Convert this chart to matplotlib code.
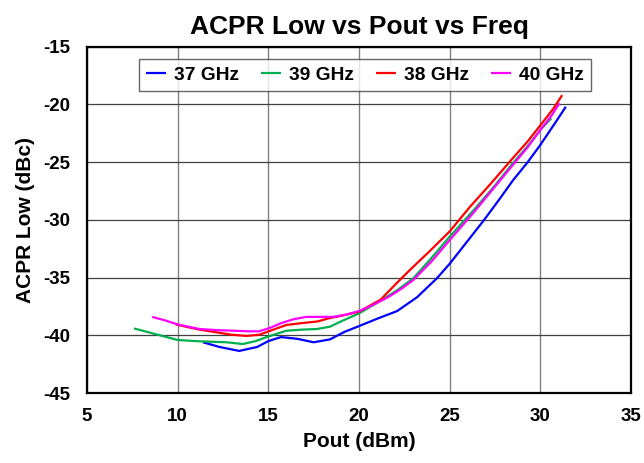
import matplotlib
matplotlib.use("Agg")
import matplotlib.pyplot as plt

plt.rcParams['font.family'] = ['Liberation Sans', 'DejaVu Sans']
plt.rcParams['font.weight'] = 'bold'
plt.rcParams['axes.unicode_minus'] = False

# Pout (dBm) and ACPR Low (dBc) per frequency
pout_37 = [11.4, 12.3, 13.4, 14.4, 15.0, 15.7, 16.6, 17.5, 18.4, 19.2, 20.0, 21.1,
           22.1, 23.2, 24.3, 25.0, 25.9, 26.9, 27.7, 28.5, 29.3, 30.0, 30.9, 31.4]
acpr_37 = [-40.6, -41.0, -41.35, -41.0, -40.5, -40.15, -40.3, -40.6, -40.35, -39.7, -39.2, -38.5,
           -37.9, -36.7, -35.05, -33.8, -32.0, -30.0, -28.3, -26.55, -25.0, -23.5, -21.4, -20.2]

pout_39 = [7.6, 8.8, 10.0, 11.0, 11.8, 12.7, 13.6, 14.3, 15.0, 16.0, 16.9, 17.7,
           18.4, 19.0, 20.0, 21.2, 22.1, 23.0, 24.0, 25.0, 26.3, 27.4, 28.4, 29.3, 30.0, 30.6]
acpr_39 = [-39.4, -39.9, -40.4, -40.5, -40.55, -40.6, -40.75, -40.5, -40.1, -39.6, -39.5, -39.45,
           -39.25, -38.8, -38.1, -37.0, -36.1, -35.05, -33.3, -31.45, -29.2, -27.2, -25.25, -23.6, -22.2, -21.2]

pout_38 = [9.9, 10.6, 11.2, 12.2, 13.0, 13.8, 14.5, 15.2, 16.0, 16.8, 17.7, 18.4,
           19.2, 20.0, 21.2, 22.0, 22.8, 23.9, 25.0, 26.1, 27.3, 28.4, 29.3, 30.0, 30.7, 31.2]
acpr_38 = [-39.05, -39.3, -39.5, -39.75, -39.95, -40.05, -39.95, -39.55, -39.1, -38.95, -38.8, -38.5,
           -38.25, -37.95, -36.9, -35.6, -34.35, -32.7, -31.0, -28.9, -26.8, -24.8, -23.2, -21.8, -20.4, -19.2]

pout_40 = [8.6, 9.3, 10.0, 10.6, 11.2, 12.2, 13.1, 13.9, 14.5, 15.1, 15.7, 16.4,
           17.1, 17.9, 18.6, 19.3, 20.0, 20.6, 21.6, 22.4, 23.0, 24.0, 25.0, 26.3, 27.4, 28.4, 29.3, 30.0, 30.6, 31.05]
acpr_40 = [-38.4, -38.7, -39.05, -39.25, -39.45, -39.55, -39.6, -39.65, -39.65, -39.35, -38.95, -38.6,
           -38.4, -38.4, -38.4, -38.2, -37.9, -37.5, -36.7, -35.9, -35.2, -33.6, -31.75, -29.4, -27.3, -25.4, -23.7, -22.2, -21.0, -19.9]

series_labels = ['37 GHz', '39 GHz', '38 GHz', '40 GHz']
series_colors = ['#0000ff', '#00b050', '#ff0000', '#ff00ff']
x_ticks = [5, 10, 15, 20, 25, 30, 35]
y_ticks = [-45, -40, -35, -30, -25, -20, -15]

fig = plt.figure(figsize=(6.44, 4.63), dpi=100)
ax = fig.add_axes([0.1348, 0.1510, 0.8452, 0.7482])

data = [(pout_37, acpr_37), (pout_39, acpr_39), (pout_38, acpr_38), (pout_40, acpr_40)]
for (xs, ys), lab, col in zip(data, series_labels, series_colors):
    ax.plot(xs, ys, color=col, lw=1.6, label=lab, solid_capstyle='butt')

ax.set_xlim(5, 35)
ax.set_ylim(-45, -15)
ax.set_xticks(x_ticks)
ax.set_yticks(y_ticks)
ax.tick_params(length=0, labelsize=13.5)
ax.tick_params(axis='y', pad=12)
ax.tick_params(axis='x', pad=11)
for lbl in ax.get_xticklabels() + ax.get_yticklabels():
    lbl.set_fontweight('bold')

ax.xaxis.grid(True, color='#808080', lw=1.0)
ax.yaxis.grid(True, color='#404040', lw=0.9)
ax.set_axisbelow(True)
for sp in ax.spines.values():
    sp.set_color('black')
    sp.set_linewidth(1.6)

ax.set_xlabel('Pout (dBm)', fontsize=15, fontweight='bold', labelpad=5)
ax.set_ylabel('ACPR Low (dBc)', fontsize=15, fontweight='bold', labelpad=6)
ax.set_title('ACPR Low vs Pout vs Freq', fontsize=19, fontweight='bold', pad=9)

leg = ax.legend(loc='upper center', bbox_to_anchor=(0.511, 0.963), ncol=4,
                fontsize=13.8, frameon=True, fancybox=False, edgecolor='#404040',
                handlelength=1.05, handletextpad=0.4, columnspacing=1.15,
                borderpad=0.38, borderaxespad=0.0)
leg.get_frame().set_linewidth(1.0)
for t in leg.get_texts():
    t.set_fontweight('bold')

fig.savefig('out.png', dpi=100)
